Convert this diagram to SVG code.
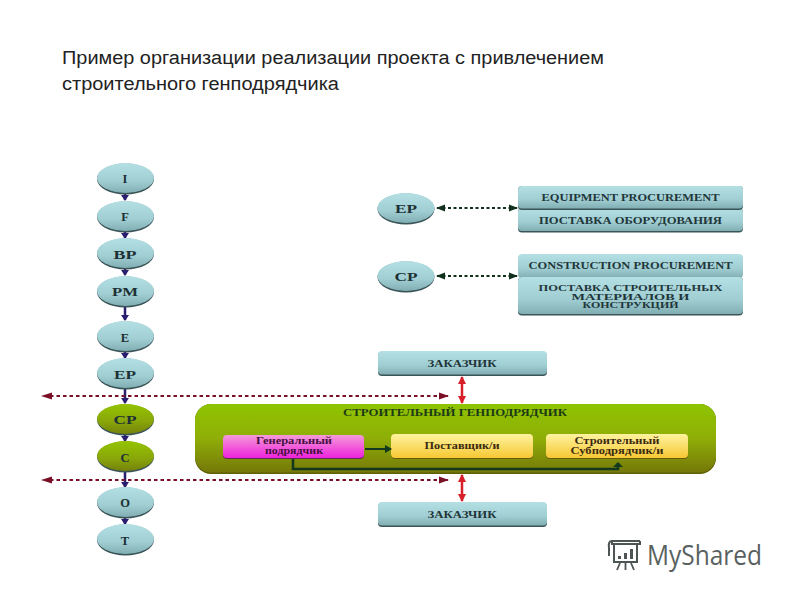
<svg xmlns="http://www.w3.org/2000/svg" width="800" height="600" viewBox="0 0 800 600">
<style>
.title{font:18px "Liberation Sans",Arial,sans-serif;fill:#222}
.t{font-family:"Liberation Serif","Times New Roman",serif;font-weight:bold;fill:#1d3034;text-anchor:middle}
.n{font-size:12.500px}
.r{font-size:9.500px;fill:#22363a}
.s{font-size:7.800px}
.flow{stroke:#2a1f6e;stroke-width:2.500;fill:none}
.dash{stroke:#7a1028;stroke-width:1.800;stroke-dasharray:3.500 3;fill:none}
.bi{stroke:#10301c;stroke-width:2;stroke-dasharray:3 2.500;fill:none}
.red{stroke:#d81e28;stroke-width:2.500;fill:none}
.dk{stroke:#12381e;stroke-width:2;fill:none}
.shadow{fill:#3a5458}
.teal{fill:url(#teal)}
.olive{fill:url(#olive)}
</style>
<defs>
<linearGradient id="teal" x1="0" y1="0" x2="0" y2="1"><stop offset="0" stop-color="#b4e0e4"/><stop offset="0.6" stop-color="#a0ced3"/><stop offset="1" stop-color="#80aeb3"/></linearGradient>
<linearGradient id="olive" x1="0" y1="0" x2="0" y2="1"><stop offset="0" stop-color="#94c400"/><stop offset="0.55" stop-color="#8aa80a"/><stop offset="1" stop-color="#75820a"/></linearGradient>
<linearGradient id="big" x1="0" y1="0" x2="0" y2="1"><stop offset="0" stop-color="#8fc400"/><stop offset="0.5" stop-color="#8fae08"/><stop offset="1" stop-color="#757808"/></linearGradient>
<linearGradient id="pink" x1="0" y1="0" x2="0" y2="1"><stop offset="0" stop-color="#f49ad8"/><stop offset="1" stop-color="#ee22dc"/></linearGradient>
<linearGradient id="yel" x1="0" y1="0" x2="0" y2="1"><stop offset="0" stop-color="#fff3a0"/><stop offset="1" stop-color="#f6c832"/></linearGradient>
<marker id="af" markerWidth="10" markerHeight="8" refX="5" refY="4" orient="auto" markerUnits="userSpaceOnUse"><path d="M0 0L6 4L0 8Z" fill="#2a1f6e"/></marker>
<marker id="ad" markerWidth="12" markerHeight="8" refX="9" refY="4" orient="auto" markerUnits="userSpaceOnUse"><path d="M0 0.500L10 4L0 7.500Z" fill="#7a1028"/></marker>
<marker id="ab" markerWidth="11" markerHeight="8" refX="8" refY="4" orient="auto-start-reverse" markerUnits="userSpaceOnUse"><path d="M0 0.500L9 4L0 7.500Z" fill="#10301c"/></marker>
<marker id="ar" markerWidth="10" markerHeight="8" refX="7" refY="4" orient="auto-start-reverse" markerUnits="userSpaceOnUse"><path d="M0 0L8 4L0 8Z" fill="#d81e28"/></marker>
<marker id="ak" markerWidth="9" markerHeight="8" refX="6" refY="4" orient="auto" markerUnits="userSpaceOnUse"><path d="M0 0L7 4L0 8Z" fill="#12381e"/></marker>
</defs>
<rect width="800" height="600" fill="#fff"/>
<text class="title" x="62" y="64" textLength="542" lengthAdjust="spacingAndGlyphs">Пример организации реализации проекта с привлечением</text>
<text class="title" x="62" y="90" textLength="277" lengthAdjust="spacingAndGlyphs">строительного генподрядчика</text>

<g id="connectors">
<path class="flow" marker-end="url(#af)" d="M125 194V200"/>
<path class="flow" marker-end="url(#af)" d="M125 232V238"/>
<path class="flow" marker-end="url(#af)" d="M125 269V275"/>
<path class="flow" marker-end="url(#af)" d="M125 307V320"/>
<path class="flow" marker-end="url(#af)" d="M125 352V358"/>
<path class="flow" marker-end="url(#af)" d="M125 389V403"/>
<path class="flow" marker-end="url(#af)" d="M125 435V441"/>
<path class="flow" marker-end="url(#af)" d="M125 472V487"/>
<path class="flow" marker-end="url(#af)" d="M125 518V524"/>
<path class="dash" marker-end="url(#ad)" d="M50 396H448"/>
<path d="M41 396L52 392.500V399.500Z" fill="#7a1028"/>
<path class="dash" marker-end="url(#ad)" d="M50 480H448"/>
<path d="M41 480L52 476.500V483.500Z" fill="#7a1028"/>
<path class="bi" marker-start="url(#ab)" marker-end="url(#ab)" d="M437 208H517"/>
<path class="bi" marker-start="url(#ab)" marker-end="url(#ab)" d="M437 276H517"/>
<path class="red" marker-start="url(#ar)" marker-end="url(#ar)" d="M462 377V403"/>
<path class="red" marker-start="url(#ar)" marker-end="url(#ar)" d="M462 475V501"/>
</g>

<g id="node-i"><ellipse class="shadow" cx="125.500" cy="179" rx="28.500" ry="15.500"/><ellipse class="teal" cx="125.500" cy="178" rx="28.500" ry="15"/><text class="t n" x="125" y="183">I</text></g>
<g id="node-f"><ellipse class="shadow" cx="125.500" cy="217" rx="28.500" ry="15.500"/><ellipse class="teal" cx="125.500" cy="216" rx="28.500" ry="15"/><text class="t n" x="125" y="221">F</text></g>
<g id="node-bp"><ellipse class="shadow" cx="125.500" cy="254" rx="28.500" ry="15.500"/><ellipse class="teal" cx="125.500" cy="253" rx="28.500" ry="15"/><text class="t n" x="125" y="259" textLength="23" lengthAdjust="spacingAndGlyphs">BP</text></g>
<g id="node-pm"><ellipse class="shadow" cx="125.500" cy="292" rx="28.500" ry="15.500"/><ellipse class="teal" cx="125.500" cy="291" rx="28.500" ry="15"/><text class="t n" x="125" y="296" textLength="26" lengthAdjust="spacingAndGlyphs">PM</text></g>
<g id="node-e"><ellipse class="shadow" cx="125.500" cy="337" rx="28.500" ry="15.500"/><ellipse class="teal" cx="125.500" cy="336" rx="28.500" ry="15"/><text class="t n" x="125" y="342">E</text></g>
<g id="node-ep"><ellipse class="shadow" cx="125.500" cy="374" rx="28.500" ry="15.500"/><ellipse class="teal" cx="125.500" cy="373" rx="28.500" ry="15"/><text class="t n" x="125" y="379" textLength="22" lengthAdjust="spacingAndGlyphs">EP</text></g>
<g id="node-cp"><ellipse class="shadow" cx="125.500" cy="420" rx="28.500" ry="15.500"/><ellipse class="olive" cx="125.500" cy="419" rx="28.500" ry="15"/><text class="t n" x="125" y="424" textLength="23" lengthAdjust="spacingAndGlyphs">CP</text></g>
<g id="node-c"><ellipse class="shadow" cx="125.500" cy="457" rx="28.500" ry="15.500"/><ellipse class="olive" cx="125.500" cy="456" rx="28.500" ry="15"/><text class="t n" x="125" y="462">C</text></g>
<g id="node-o"><ellipse class="shadow" cx="125.500" cy="503" rx="28.500" ry="15.500"/><ellipse class="teal" cx="125.500" cy="502" rx="28.500" ry="15"/><text class="t n" x="125" y="507">O</text></g>
<g id="node-t"><ellipse class="shadow" cx="125.500" cy="540" rx="28.500" ry="15.500"/><ellipse class="teal" cx="125.500" cy="539" rx="28.500" ry="15"/><text class="t n" x="125" y="545">T</text></g>

<g id="node-ep2"><ellipse class="shadow" cx="406" cy="209" rx="28.500" ry="15.500"/><ellipse class="teal" cx="406" cy="208" rx="28.500" ry="15"/><text class="t n" x="406" y="213" textLength="22" lengthAdjust="spacingAndGlyphs">EP</text></g>
<g id="node-cp2"><ellipse class="shadow" cx="406" cy="277" rx="28.500" ry="15.500"/><ellipse class="teal" cx="406" cy="276" rx="28.500" ry="15"/><text class="t n" x="406" y="281" textLength="23" lengthAdjust="spacingAndGlyphs">CP</text></g>

<g id="box-ep-ru"><rect class="shadow" x="518" y="208" width="225" height="24.500" rx="4"/><rect class="teal" x="518" y="208" width="225" height="23" rx="4"/><text class="t r" x="630.500" y="224" textLength="183" lengthAdjust="spacingAndGlyphs">ПОСТАВКА ОБОРУДОВАНИЯ</text></g>
<g id="box-ep-en"><rect class="shadow" x="518" y="186" width="225" height="24" rx="4"/><rect class="teal" x="518" y="186" width="225" height="22.500" rx="4"/><text class="t r" x="630.500" y="201" textLength="178" lengthAdjust="spacingAndGlyphs">EQUIPMENT PROCUREMENT</text></g>
<g id="box-cp-en"><rect class="teal" x="518" y="254" width="225" height="24" rx="4"/><text class="t r" x="630.500" y="269" textLength="204" lengthAdjust="spacingAndGlyphs">CONSTRUCTION PROCUREMENT</text></g>
<g id="box-cp-ru"><rect class="shadow" x="518" y="277" width="225" height="38.500" rx="4"/><rect class="teal" x="518" y="277" width="225" height="37" rx="4"/>
<text class="t r s" x="630.500" y="291" textLength="184" lengthAdjust="spacingAndGlyphs">ПОСТАВКА СТРОИТЕЛЬНЫХ</text><text class="t r s" x="630.500" y="299.500" textLength="118" lengthAdjust="spacingAndGlyphs">МАТЕРИАЛОВ И</text><text class="t r s" x="630.500" y="308" textLength="96" lengthAdjust="spacingAndGlyphs">КОНСТРУКЦИЙ</text></g>

<g id="box-customer-top"><rect class="shadow" x="378" y="352" width="169" height="24" rx="4"/><rect class="teal" x="378" y="351" width="169" height="23.500" rx="4"/><text class="t r" x="462" y="367" textLength="69" lengthAdjust="spacingAndGlyphs">ЗАКАЗЧИК</text></g>

<g id="box-contractor"><rect x="195" y="404" width="521" height="70" rx="16" fill="#5f5f06"/><rect x="195" y="404" width="521" height="68.500" rx="16" fill="url(#big)"/><text class="t r" x="455" y="416" textLength="224" lengthAdjust="spacingAndGlyphs" style="fill:#1c3a16">СТРОИТЕЛЬНЫЙ  ГЕНПОДРЯДЧИК</text></g>

<g id="box-general"><rect x="223" y="437" width="141" height="22" rx="4" fill="#5b2a55"/><rect x="223" y="435" width="141" height="23" rx="4" fill="url(#pink)"/><text class="t r" x="294" y="444" textLength="76" lengthAdjust="spacingAndGlyphs" style="fill:#45103f">Генеральный</text><text class="t r" x="294" y="454" textLength="58" lengthAdjust="spacingAndGlyphs" style="fill:#45103f">подрядчик</text></g>
<g id="box-supplier"><rect x="391" y="436" width="142" height="23" rx="4" fill="#6a5a10"/><rect x="391" y="434" width="142" height="24" rx="4" fill="url(#yel)"/><text class="t r" x="462" y="449" textLength="75" lengthAdjust="spacingAndGlyphs" style="fill:#3a2a10">Поставщик/и</text></g>
<g id="box-sub"><rect x="546" y="436" width="142" height="23" rx="4" fill="#6a5a10"/><rect x="546" y="434" width="142" height="24" rx="4" fill="url(#yel)"/><text class="t r" x="617" y="444" textLength="85" lengthAdjust="spacingAndGlyphs" style="fill:#3a2a10">Строительный</text><text class="t r" x="617" y="454" textLength="93" lengthAdjust="spacingAndGlyphs" style="fill:#3a2a10">Субподрядчик/и</text></g>

<g id="connectors-inner">
<path class="dk" marker-end="url(#ak)" d="M365 449H391"/>
<path class="dk" style="stroke-width:2.500" d="M293 459V469H618V463"/>
<path d="M618 462L613 467H623Z" fill="#12381e"/>
</g>

<g id="box-customer-bottom"><rect class="shadow" x="378" y="503" width="169" height="24" rx="4"/><rect class="teal" x="378" y="502" width="169" height="23.500" rx="4"/><text class="t r" x="462" y="518" textLength="69" lengthAdjust="spacingAndGlyphs">ЗАКАЗЧИК</text></g>

<g id="logo">
<path d="M612 541H640M612 541Q608 541 609 548V556M612 541V544H640V541M614 544V562H637V544" fill="none" stroke="#4c5554" stroke-width="2"/>
<path d="M618 556h3v3h-3zM624 553h3v6h-3zM630 549h3v10h-3z" fill="#4c5554"/>
<path d="M620 563L617 570M625.500 563V570M631 563L634 570" stroke="#4c5554" stroke-width="1.800" fill="none"/>
<text x="647" y="565" font-family="'Open Sans','Noto Sans',sans-serif" font-size="27" fill="#596160" textLength="115" lengthAdjust="spacingAndGlyphs">MyShared</text>
</g>
</svg>
